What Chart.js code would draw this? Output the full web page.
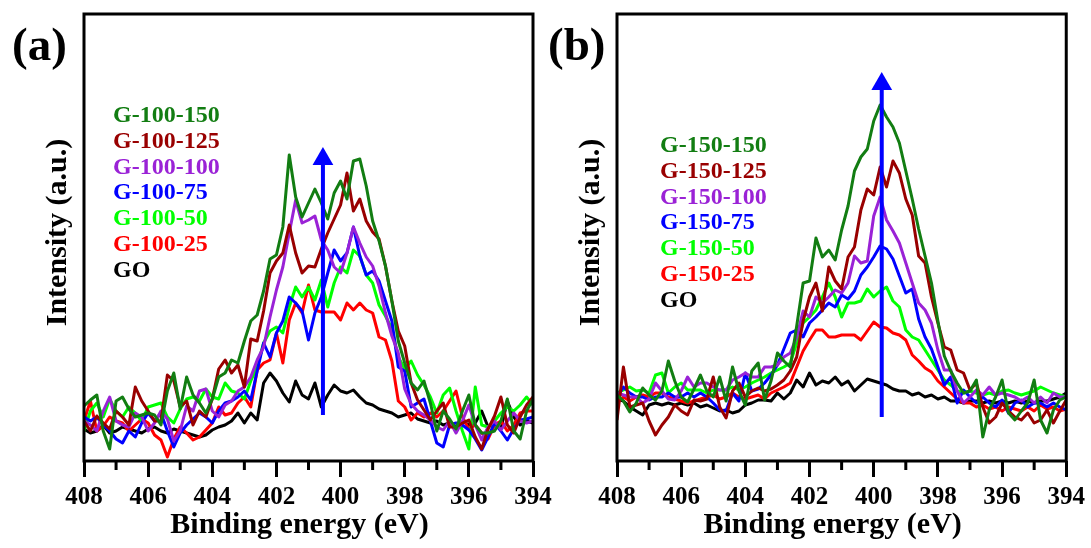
<!DOCTYPE html>
<html>
<head>
<meta charset="utf-8">
<title>N 1s XPS spectra</title>
<script src="https://cdn.jsdelivr.net/npm/chart.js@4.4.0/dist/chart.umd.min.js"></script>
<style>
  body { margin: 0; background: #fff; }
  #wrap { position: relative; width: 1091px; height: 548px; overflow: hidden; }
  canvas { position: absolute; top: 0; }
  #chartA { left: 0; }
  #chartB { left: 533px; }
</style>
</head>
<body>
<div id="wrap">
  <canvas id="chartA" width="560" height="548"></canvas>
  <canvas id="chartB" width="558" height="548"></canvas>
</div>
<script>
// binding energy grid (eV), shared by all spectra
const energies = [408, 407.8, 407.6, 407.4, 407.2, 407, 406.8, 406.6, 406.4, 406.2,
  406, 405.8, 405.6, 405.4, 405.2, 405, 404.8, 404.6, 404.4, 404.2,
  404, 403.8, 403.6, 403.4, 403.2, 403, 402.8, 402.6, 402.4, 402.2,
  402, 401.8, 401.6, 401.4, 401.2, 401, 400.8, 400.6, 400.4, 400.2,
  400, 399.8, 399.6, 399.4, 399.2, 399, 398.8, 398.6, 398.4, 398.2,
  398, 397.8, 397.6, 397.4, 397.2, 397, 396.8, 396.6, 396.4, 396.2,
  396, 395.8, 395.6, 395.4, 395.2, 395, 394.8, 394.6, 394.4, 394.2, 394];

const majorTicks = [408, 406, 404, 402, 400, 398, 396, 394];
const minorTicks = [407, 405, 403, 401, 399, 397, 395];

const xTitle = 'Binding energy (eV)';
const yTitle = 'Intensity (a.u.)';

// series (a): G-100-x samples
const g100_150 = [55, 61, 66, 30, 12, 60, 64, 52, 44, 46,
  48, 46, 36, 70, 88, 52, 84, 66, 58, 48,
  62, 84, 88, 101, 98, 120, 140, 146, 170, 202,
  206, 234, 306, 264, 244, 258, 272, 258, 242, 268,
  280, 262, 300, 302, 275, 240, 220, 195, 160, 120,
  98, 78, 71, 80, 58, 30, 50, 42, 32, 50,
  66, 36, 28, 28, 30, 40, 62, 30, 22, 50, 62];
const g100_125 = [40, 30, 45, 38, 32, 50, 44, 36, 74, 60,
  50, 40, 40, 86, 80, 54, 60, 36, 50, 44,
  62, 92, 101, 88, 96, 74, 122, 120, 150, 188,
  200, 208, 236, 208, 188, 195, 194, 212, 228, 242,
  256, 288, 250, 262, 240, 229, 222, 195, 160, 130,
  115, 78, 61, 51, 41, 50, 58, 34, 34, 38,
  41, 24, 12, 32, 45, 64, 36, 28, 44, 56, 64];
const g100_100 = [40, 36, 30, 50, 64, 40, 36, 34, 48, 44,
  30, 38, 50, 42, 20, 30, 55, 50, 70, 72,
  50, 44, 56, 60, 70, 74, 84, 101, 114, 144,
  171, 194, 228, 261, 238, 241, 245, 221, 211, 194,
  188, 208, 234, 218, 204, 195, 175, 148, 125, 108,
  72, 57, 50, 46, 41, 34, 31, 40, 28, 40,
  56, 36, 21, 34, 40, 31, 40, 48, 40, 38, 40];
const g100_75 = [44, 40, 44, 36, 30, 22, 18, 30, 24, 38,
  48, 40, 48, 30, 14, 28, 36, 42, 48, 44,
  38, 50, 58, 60, 64, 70, 61, 90, 118, 104,
  128, 140, 164, 158, 150, 121, 148, 164, 188, 211,
  200, 208, 234, 205, 186, 190, 180, 160, 140, 94,
  90, 54, 58, 62, 40, 18, 14, 36, 38, 36,
  31, 22, 11, 24, 38, 30, 21, 32, 41, 42, 44];
const g100_50 = [30, 50, 58, 44, 62, 50, 44, 54, 48, 40,
  54, 56, 58, 44, 38, 52, 62, 64, 60, 72,
  64, 62, 78, 70, 68, 62, 80, 94, 118, 130,
  134, 128, 154, 174, 164, 174, 161, 181, 154, 178,
  194, 188, 211, 205, 186, 178, 156, 145, 132, 104,
  92, 100, 86, 76, 64, 48, 66, 73, 50, 30,
  12, 74, 36, 34, 40, 48, 54, 50, 56, 64, 56];
const g100_25 = [40, 60, 30, 35, 44, 40, 38, 30, 36, 42,
  38, 26, 21, 4, 22, 34, 28, 21, 24, 31,
  38, 54, 46, 48, 58, 64, 54, 91, 98, 101,
  128, 98, 141, 158, 148, 176, 151, 149, 149, 149,
  141, 158, 151, 158, 151, 148, 124, 121, 100, 60,
  54, 41, 48, 44, 48, 44, 50, 60, 70, 44,
  32, 36, 28, 22, 36, 40, 30, 36, 48, 50, 50];
const goA = [32, 28, 30, 36, 28, 30, 34, 32, 30, 28,
  32, 34, 30, 28, 32, 30, 28, 26, 24, 26,
  31, 34, 36, 40, 48, 38, 48, 41, 78, 88,
  80, 68, 59, 80, 66, 62, 78, 54, 66, 76,
  70, 68, 71, 64, 58, 56, 52, 50, 48, 44,
  46, 48, 42, 40, 38, 40, 36, 38, 34, 40,
  36, 38, 50, 34, 38, 32, 60, 44, 36, 40, 38];

// series (b): G-150-x samples
const g150_150 = [66, 60, 49, 58, 73, 66, 61, 70, 100, 80,
  64, 59, 72, 86, 70, 64, 84, 60, 94, 70,
  56, 90, 98, 61, 80, 108, 100, 94, 135, 178,
  180, 223, 204, 211, 201, 231, 255, 290, 304, 312,
  340, 356, 344, 334, 318, 290, 262, 232, 205, 178,
  140, 105, 90, 78, 68, 70, 81, 24, 51, 64,
  81, 48, 41, 50, 58, 81, 41, 28, 51, 61, 64];
const g150_125 = [41, 94, 54, 56, 58, 40, 26, 36, 44, 56,
  50, 46, 61, 60, 62, 84, 54, 43, 70, 78,
  64, 70, 73, 70, 72, 76, 81, 90, 104, 140,
  164, 178, 150, 194, 180, 172, 204, 214, 251, 272,
  266, 294, 274, 300, 288, 262, 246, 205, 198, 164,
  138, 114, 111, 91, 88, 71, 78, 54, 38, 44,
  58, 50, 44, 41, 48, 38, 41, 51, 38, 50, 61];
const g150_100 = [68, 66, 64, 64, 58, 62, 78, 70, 62, 61,
  70, 84, 74, 78, 78, 74, 71, 71, 81, 84,
  88, 84, 84, 94, 94, 96, 104, 108, 124, 150,
  144, 164, 158, 164, 171, 168, 178, 205, 198, 200,
  245, 264, 241, 230, 218, 198, 178, 158, 151, 138,
  111, 91, 91, 70, 58, 64, 71, 66, 74, 66,
  68, 66, 64, 60, 64, 58, 64, 58, 68, 64, 64];
const g150_75 = [64, 74, 68, 64, 64, 61, 64, 64, 68, 64,
  64, 68, 64, 68, 64, 58, 51, 50, 68, 60,
  88, 70, 72, 78, 86, 96, 112, 128, 131, 124,
  138, 144, 151, 158, 154, 166, 162, 170, 186, 194,
  204, 215, 212, 202, 185, 168, 172, 142, 124, 112,
  94, 76, 84, 58, 71, 64, 58, 64, 58, 54,
  61, 48, 58, 61, 54, 58, 58, 54, 58, 54, 51];
const g150_50 = [68, 71, 74, 70, 71, 68, 86, 88, 68, 74,
  78, 71, 71, 71, 68, 71, 71, 71, 74, 71,
  74, 78, 81, 84, 88, 91, 94, 98, 118, 138,
  144, 151, 164, 178, 164, 144, 158, 158, 160, 172,
  164, 170, 174, 160, 154, 131, 124, 121, 111, 101,
  91, 81, 76, 70, 68, 70, 68, 66, 68, 66,
  70, 71, 68, 66, 68, 70, 74, 71, 68, 66, 64];
const g150_25 = [58, 64, 60, 64, 66, 64, 68, 68, 64, 62,
  60, 58, 60, 62, 64, 66, 62, 64, 68, 64,
  62, 64, 66, 62, 68, 71, 74, 78, 94, 110,
  121, 131, 131, 124, 124, 126, 126, 126, 121, 130,
  139, 134, 133, 128, 126, 121, 106, 100, 93, 89,
  80, 74, 68, 62, 58, 58, 54, 56, 52, 54,
  50, 54, 52, 50, 54, 50, 56, 52, 54, 50, 52];
const goB = [62, 60, 54, 50, 46, 56, 58, 56, 58, 56,
  58, 56, 58, 54, 56, 53, 50, 51, 48, 50,
  56, 58, 61, 61, 60, 68, 62, 68, 81, 74,
  88, 76, 80, 78, 84, 76, 80, 70, 76, 82,
  80, 78, 76, 72, 70, 70, 66, 68, 64, 66,
  62, 64, 60, 60, 58, 60, 60, 58, 60, 58,
  60, 58, 60, 58, 60, 58, 60, 60, 62, 64, 68];

// trend arrows: energy, shaft start, arrow head position
const arrowA = { energy: 400.55, from: 46, head: 302 };
const arrowB = { energy: 399.75, from: 44, head: 377 };

const colors = ['#127d12', '#990000', '#9a22d6', '#0000ff', '#00ff00', '#ff0000', '#000000'];

function toPoints(values) {
  return values.map((v, i) => ({ x: energies[i], y: v }));
}

function buildDatasets(names, series, arrow) {
  const sets = series.map((s, k) => ({
    label: names[k],
    data: toPoints(s),
    borderColor: colors[k],
    borderWidth: 3,
    borderJoinStyle: 'round',
    pointRadius: 0,
    tension: 0
  }));
  sets.push({
    label: '',
    isArrow: true,
    data: [{ x: arrow.energy, y: arrow.from }, { x: arrow.energy, y: arrow.head }],
    borderColor: '#0000ff',
    backgroundColor: '#0000ff',
    borderWidth: 4,
    pointRadius: [0, 12],
    pointStyle: 'triangle',
    pointBorderWidth: 0,
    order: -1
  });
  return sets;
}

// frame, minor ticks, legend text, axis titles and panel tag
const panelDecor = {
  id: 'panelDecor',
  afterDraw(chart, args, opts) {
    const ctx = chart.ctx;
    const area = chart.chartArea;
    const x = chart.scales.x;
    ctx.save();
    ctx.strokeStyle = '#000';
    ctx.lineWidth = 3;
    ctx.strokeRect(area.left, area.top, area.right - area.left, area.bottom - area.top);

    ctx.beginPath();
    minorTicks.forEach(v => {
      const px = x.getPixelForValue(v);
      ctx.moveTo(px, area.bottom);
      ctx.lineTo(px, area.bottom + 9);
    });
    ctx.stroke();

    ctx.textAlign = 'left';
    ctx.textBaseline = 'alphabetic';
    ctx.font = 'bold 24px "Liberation Serif"';
    chart.data.datasets.filter(d => !d.isArrow).forEach((d, k) => {
      ctx.fillStyle = d.borderColor;
      ctx.fillText(d.label, area.left + opts.legendX, area.top + opts.legendY + k * 25.8);
    });

    ctx.fillStyle = '#000';
    ctx.font = 'bold 47px "Liberation Serif"';
    ctx.fillText(opts.tag, opts.tagX, 60);

    ctx.font = 'bold 30px "Liberation Serif"';
    ctx.textAlign = 'center';
    ctx.fillText(xTitle, (area.left + area.right) / 2 - 9, area.bottom + 72);
    ctx.translate(area.left - 18.5, (area.top + area.bottom) / 2 - 5);
    ctx.rotate(-Math.PI / 2);
    ctx.fillText(yTitle, 0, 0);
    ctx.restore();
  }
};

function makeChart(id, names, series, arrow, decor, rightPad) {
  return new Chart(document.getElementById(id), {
    type: 'line',
    data: { datasets: buildDatasets(names, series, arrow) },
    options: {
      responsive: false,
      animation: false,
      devicePixelRatio: 1,
      events: [],
      layout: { padding: { left: 0, top: 14, right: rightPad, bottom: 0 } },
      scales: {
        x: {
          type: 'linear',
          reverse: true,
          min: 394,
          max: 408,
          afterBuildTicks: s => { s.ticks = majorTicks.map(v => ({ value: v })); },
          ticks: {
            color: '#000',
            padding: 6,
            maxRotation: 0,
            autoSkip: false,
            font: { family: 'Liberation Serif', size: 25, weight: 'bold' }
          },
          grid: { drawOnChartArea: false, drawTicks: true, tickLength: 16, lineWidth: 3, color: '#000' },
          border: { display: false },
          afterFit: s => { s.height = 87; }
        },
        y: {
          min: 0,
          max: 447,
          ticks: { display: false },
          grid: { display: false, drawTicks: false },
          border: { display: false },
          afterFit: s => { s.width = 84; }
        }
      },
      plugins: {
        legend: { display: false },
        tooltip: { enabled: false },
        panelDecor: decor
      }
    },
    plugins: [panelDecor]
  });
}

makeChart('chartA',
  ['G-100-150', 'G-100-125', 'G-100-100', 'G-100-75', 'G-100-50', 'G-100-25', 'GO'],
  [g100_150, g100_125, g100_100, g100_75, g100_50, g100_25, goA],
  arrowA, { tag: '(a)', tagX: 12, legendX: 29, legendY: 108 }, 27);

makeChart('chartB',
  ['G-150-150', 'G-150-125', 'G-150-100', 'G-150-75', 'G-150-50', 'G-150-25', 'GO'],
  [g150_150, g150_125, g150_100, g150_75, g150_50, g150_25, goB],
  arrowB, { tag: '(b)', tagX: 15, legendX: 43, legendY: 138 }, 23);
</script>
</body>
</html>
